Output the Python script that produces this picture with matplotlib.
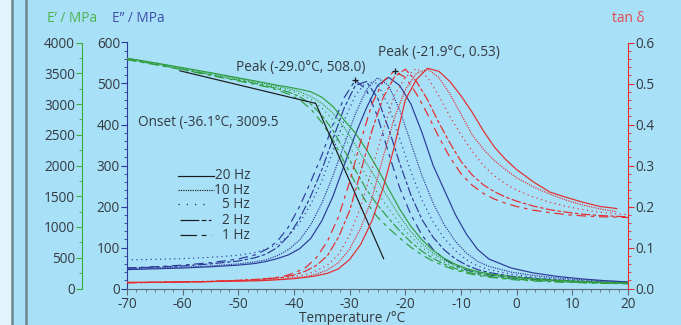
import numpy as np
import matplotlib
matplotlib.use("Agg")
import matplotlib.pyplot as plt
from matplotlib.lines import Line2D

plt.rcParams['font.family'] = ['Open Sans', 'DejaVu Sans']
plt.rcParams['axes.unicode_minus'] = False

# ---------------- data ----------------
freqs = ["20 Hz", "10 Hz", "5 Hz", "2 Hz", "1 Hz"]

T_mod = [-70, -65, -60, -55, -50, -47, -45, -43, -41, -39, -37, -35, -33, -31, -29, -27,
         -25, -23, -21, -19, -17, -15, -13, -11, -9, -7, -5, -1, 3, 7, 12, 16, 20]

E1_20 = [3745, 3670, 3590, 3510, 3425, 3375, 3340, 3305, 3275, 3240, 3200, 3110, 2960, 2740, 2530, 2260,
         1950, 1620, 1290, 1010, 790, 620, 490, 395, 325, 275, 240, 190, 158, 135, 113, 100, 92]
E1_10 = [3739, 3663, 3581, 3499, 3413, 3361, 3325, 3286, 3250, 3200, 3125, 3010, 2850, 2620, 2340, 2040,
         1752, 1460, 1172, 925, 729, 576, 459, 371, 306, 259, 226, 179, 149, 128, 108, 96, 88]
E1_5 = [3732, 3655, 3572, 3487, 3400, 3347, 3310, 3267, 3225, 3165, 3075, 2935, 2740, 2470, 2150, 1830,
        1555, 1300, 1055, 840, 668, 532, 428, 348, 288, 244, 212, 168, 140, 120, 102, 92, 85]
E1_2 = [3726, 3648, 3564, 3476, 3388, 3334, 3295, 3249, 3195, 3120, 3000, 2820, 2570, 2250, 1930, 1612,
        1357, 1140, 937, 755, 606, 489, 396, 324, 269, 228, 199, 156, 131, 113, 97, 87, 81]
E1_1 = [3720, 3640, 3555, 3465, 3375, 3320, 3280, 3230, 3160, 3070, 2920, 2700, 2420, 2060, 1720, 1400,
        1160, 980, 820, 670, 545, 445, 365, 300, 250, 212, 185, 145, 122, 106, 92, 83, 77]

E2_20 = [46, 48, 50, 53, 57, 61, 66, 73, 82, 97, 122, 165, 225, 300, 375, 440,
         495, 515, 495, 450, 380, 300, 240, 180, 132, 95, 72, 50, 38, 30, 23, 19, 16]
E2_10 = [48, 50, 52, 55, 60, 65, 70, 80, 95, 118, 155, 208, 275, 350, 425, 485,
         514, 495, 435, 355, 275, 208, 155, 115, 86, 66, 54, 40, 32, 26, 21, 18, 16]
E2_5 = [70, 71, 73, 76, 81, 88, 96, 108, 128, 160, 205, 262, 335, 410, 470, 505,
        500, 445, 365, 285, 215, 162, 122, 92, 70, 55, 46, 35, 28, 23, 19, 16, 15]
E2_2 = [50, 52, 55, 60, 67, 75, 84, 100, 128, 170, 225, 290, 365, 440, 495, 505,
        465, 390, 305, 228, 168, 125, 94, 72, 57, 46, 39, 30, 25, 21, 17, 15, 14]
E2_1 = [50, 53, 57, 63, 72, 82, 95, 115, 150, 200, 260, 325, 400, 465, 508, 485,
        420, 330, 245, 180, 130, 95, 72, 56, 45, 38, 33, 26, 22, 19, 16, 14, 13]

T_tan = [-70, -65, -60, -55, -50, -46, -42, -40, -38, -36, -34, -32, -30, -28, -26, -24, -22, -20,
         -18, -16, -14, -12, -10, -8, -6, -4, -2, 0, 3, 6, 9, 12, 15, 18, 20]
tan_20 = [.015, .015, .016, .017, .018, .019, .022, .024, .027, .031, .037, .048, .071, .108, .165, .245,
          .345, .460, .510, .537, .530, .505, .470, .430, .385, .345, .315, .290, .260, .235, .222, .210,
          .200, .195, np.nan]
tan_10 = [.015, .015, .016, .017, .019, .020, .023, .026, .029, .035, .045, .063, .096, .148, .220, .320,
          .415, .485, .525, .535, .515, .475, .425, .375, .340, .312, .290, .270, .248, .230, .215, .203,
          .194, .187, np.nan]
tan_5 = [.014, .015, .016, .018, .020, .022, .026, .029, .034, .043, .057, .083, .130, .200, .290, .385,
         .470, .515, .537, .515, .470, .420, .375, .335, .300, .275, .255, .240, .223, .210, .200, .192,
         .186, .182, .180]
tan_2 = [.014, .015, .016, .017, .020, .023, .027, .033, .042, .056, .080, .125, .190, .285, .385, .465,
         .515, .535, .505, .460, .405, .355, .310, .277, .253, .236, .223, .213, .201, .192, .186, .181,
         .178, .176, .175]
tan_1 = [.014, .015, .016, .017, .019, .022, .029, .038, .050, .075, .115, .175, .260, .360, .450, .505,
         .530, .515, .475, .425, .370, .320, .280, .252, .232, .218, .208, .200, .191, .185, .180, .177,
         .175, .174, .173]

E1_sets = [E1_20, E1_10, E1_5, E1_2, E1_1]
E2_sets = [E2_20, E2_10, E2_5, E2_2, E2_1]
tan_sets = [tan_20, tan_10, tan_5, tan_2, tan_1]

peak_E2 = (-29.0, 508.0)
peak_tan = (-21.9, 0.53)
onset_T = [-60.5, -36.1, -23.9]
onset_E = [3540, 3009.5, 485]

# ---------------- styling ----------------
styles = ['-', (0, (1, 1)), (0, (1, 3)), (0, (8, 2, 3, 2)), (0, (8, 4, 3, 4))]
leg_styles = ['-', (0, (1, 1)), (0, (1, 6)), (0, (16, 2, 4, 2)), (0, (14, 4, 4, 4))]
GREEN = '#2f9e3f'
BLUE = '#2c3b96'
RED = '#e52b2b'
BG = '#a8e0f8'
TXT = '#333a40'
LW = 0.85

fig = plt.figure(figsize=(6.81, 3.25), dpi=100, facecolor=BG)
fig.patches.append(plt.Rectangle((0, 0), 11 / 681, 1, transform=fig.transFigure, color='#e2f3fc', zorder=0))
for xp in (11.5, 26.5):
    fig.lines.append(Line2D([xp / 681, xp / 681], [0, 1], transform=fig.transFigure, color='#6d8592', lw=1.8))

ax = fig.add_axes([127 / 681, 1 - 288.5 / 325, 501 / 681, 246 / 325])
ax.set_facecolor('none')
ax_e1 = ax.twinx()
ax_tan = ax.twinx()

for a in (ax, ax_e1, ax_tan):
    a.set_xlim(-70, 20)
    for s in a.spines.values():
        s.set_visible(False)

ax.set_ylim(0, 600)
ax_e1.set_ylim(0, 4000)
ax_tan.set_ylim(0, 0.6)

ax.spines['left'].set_visible(True)
ax.spines['left'].set_color(BLUE)
ax.spines['bottom'].set_visible(True)
ax.spines['bottom'].set_color('#5f6a72')
ax_e1.spines['left'].set_visible(True)
ax_e1.spines['left'].set_position(('axes', -45 / 501))
ax_e1.spines['left'].set_color('#3aad3a')
ax_e1.yaxis.set_ticks_position('left')
ax_e1.yaxis.set_label_position('left')
ax_tan.spines['right'].set_visible(True)
ax_tan.spines['right'].set_color(RED)

ax.set_xticks(np.arange(-70, 21, 10))
ax.set_xticks(np.arange(-70, 20.01, 10 / 6), minor=True)
ax.set_yticks(np.arange(0, 601, 100))
ax.set_yticks(np.arange(0, 601, 20), minor=True)
ax_e1.set_yticks(np.arange(0, 4001, 500))
ax_e1.set_yticks(np.arange(0, 4001, 250), minor=True)
ax_tan.set_yticks(np.arange(0, 0.61, 0.1))
ax_tan.set_yticks(np.arange(0, 0.601, 0.02), minor=True)
ax_tan.set_yticklabels(['0.0', '0.1', '0.2', '0.3', '0.4', '0.5', '0.6'])

fs = 9.8
ax.tick_params(axis='x', which='major', length=4, color='#5f6a72', labelsize=fs, labelcolor=TXT, pad=2)
ax.tick_params(axis='x', which='minor', length=2, color='#5f6a72')
ax.tick_params(axis='y', which='major', length=4, color=BLUE, labelsize=fs, labelcolor=TXT, pad=1)
ax.tick_params(axis='y', which='minor', length=2, color=BLUE)
ax_e1.tick_params(axis='y', which='major', length=4, color='#3aad3a', labelsize=fs, labelcolor=TXT, pad=1)
ax_e1.tick_params(axis='y', which='minor', length=2, color='#3aad3a')
ax_tan.tick_params(axis='y', which='major', length=4, color=RED, labelsize=fs, labelcolor=TXT, pad=1)
ax_tan.tick_params(axis='y', which='minor', length=2, color=RED)

fig.text(352 / 681, 1 - 322.5 / 325, 'Temperature /°C', fontsize=fs, color=TXT, ha='center', va='baseline')

for E1, ls in zip(E1_sets, styles):
    ax_e1.plot(T_mod, E1, color=GREEN, lw=LW, ls=ls)
for E2, ls in zip(E2_sets, styles):
    ax.plot(T_mod, E2, color=BLUE, lw=LW, ls=ls)
for td, ls in zip(tan_sets, styles):
    ax_tan.plot(T_tan, td, color=RED, lw=LW, ls=ls)

ax_e1.plot(onset_T, onset_E, color='#1a1a1a', lw=LW)
ax.plot([peak_E2[0]], [peak_E2[1]], marker='+', color='#1a1a1a', ms=4, mew=0.9)
ax_tan.plot([peak_tan[0]], [peak_tan[1]], marker='+', color='#1a1a1a', ms=4, mew=0.9)

ax.text(-68.0, 405, 'Onset (-36.1°C, 3009.5', fontsize=fs, color=TXT, va='center')
ax.text(-50.5, 540, 'Peak (-29.0°C, 508.0)', fontsize=fs, color=TXT, va='center')
ax_tan.text(-24.9, 0.575, 'Peak (-21.9°C, 0.53)', fontsize=fs, color=TXT, va='center')

fig.text(72 / 681, 1 - 18 / 325, 'E’ / MPa', color='#4cb34f', fontsize=fs, ha='center', va='center')
fig.text(138 / 681, 1 - 18 / 325, 'E” / MPa', color='#3f4fa6', fontsize=fs, ha='center', va='center')
fig.text(628 / 681, 1 - 18 / 325, 'tan δ', color='#e5474c', fontsize=fs, ha='center', va='center')

rows = [175.7, 190, 204.3, 220, 235.3]
x_starts = [178, 178, 178, 180, 180]
x_ends = [214, 214, 206, 211, 211]
for lab, ls, yy, x0, x1 in zip(freqs, leg_styles, rows, x_starts, x_ends):
    fig.lines.append(Line2D([x0 / 681, x1 / 681], [1 - yy / 325] * 2, transform=fig.transFigure,
                            color='#1a1a1a', lw=LW, ls=ls))
    fig.text(250 / 681, 1 - yy / 325, lab, fontsize=fs, color=TXT, ha='right', va='center')

fig.savefig('out.png', dpi=100, facecolor=BG)
